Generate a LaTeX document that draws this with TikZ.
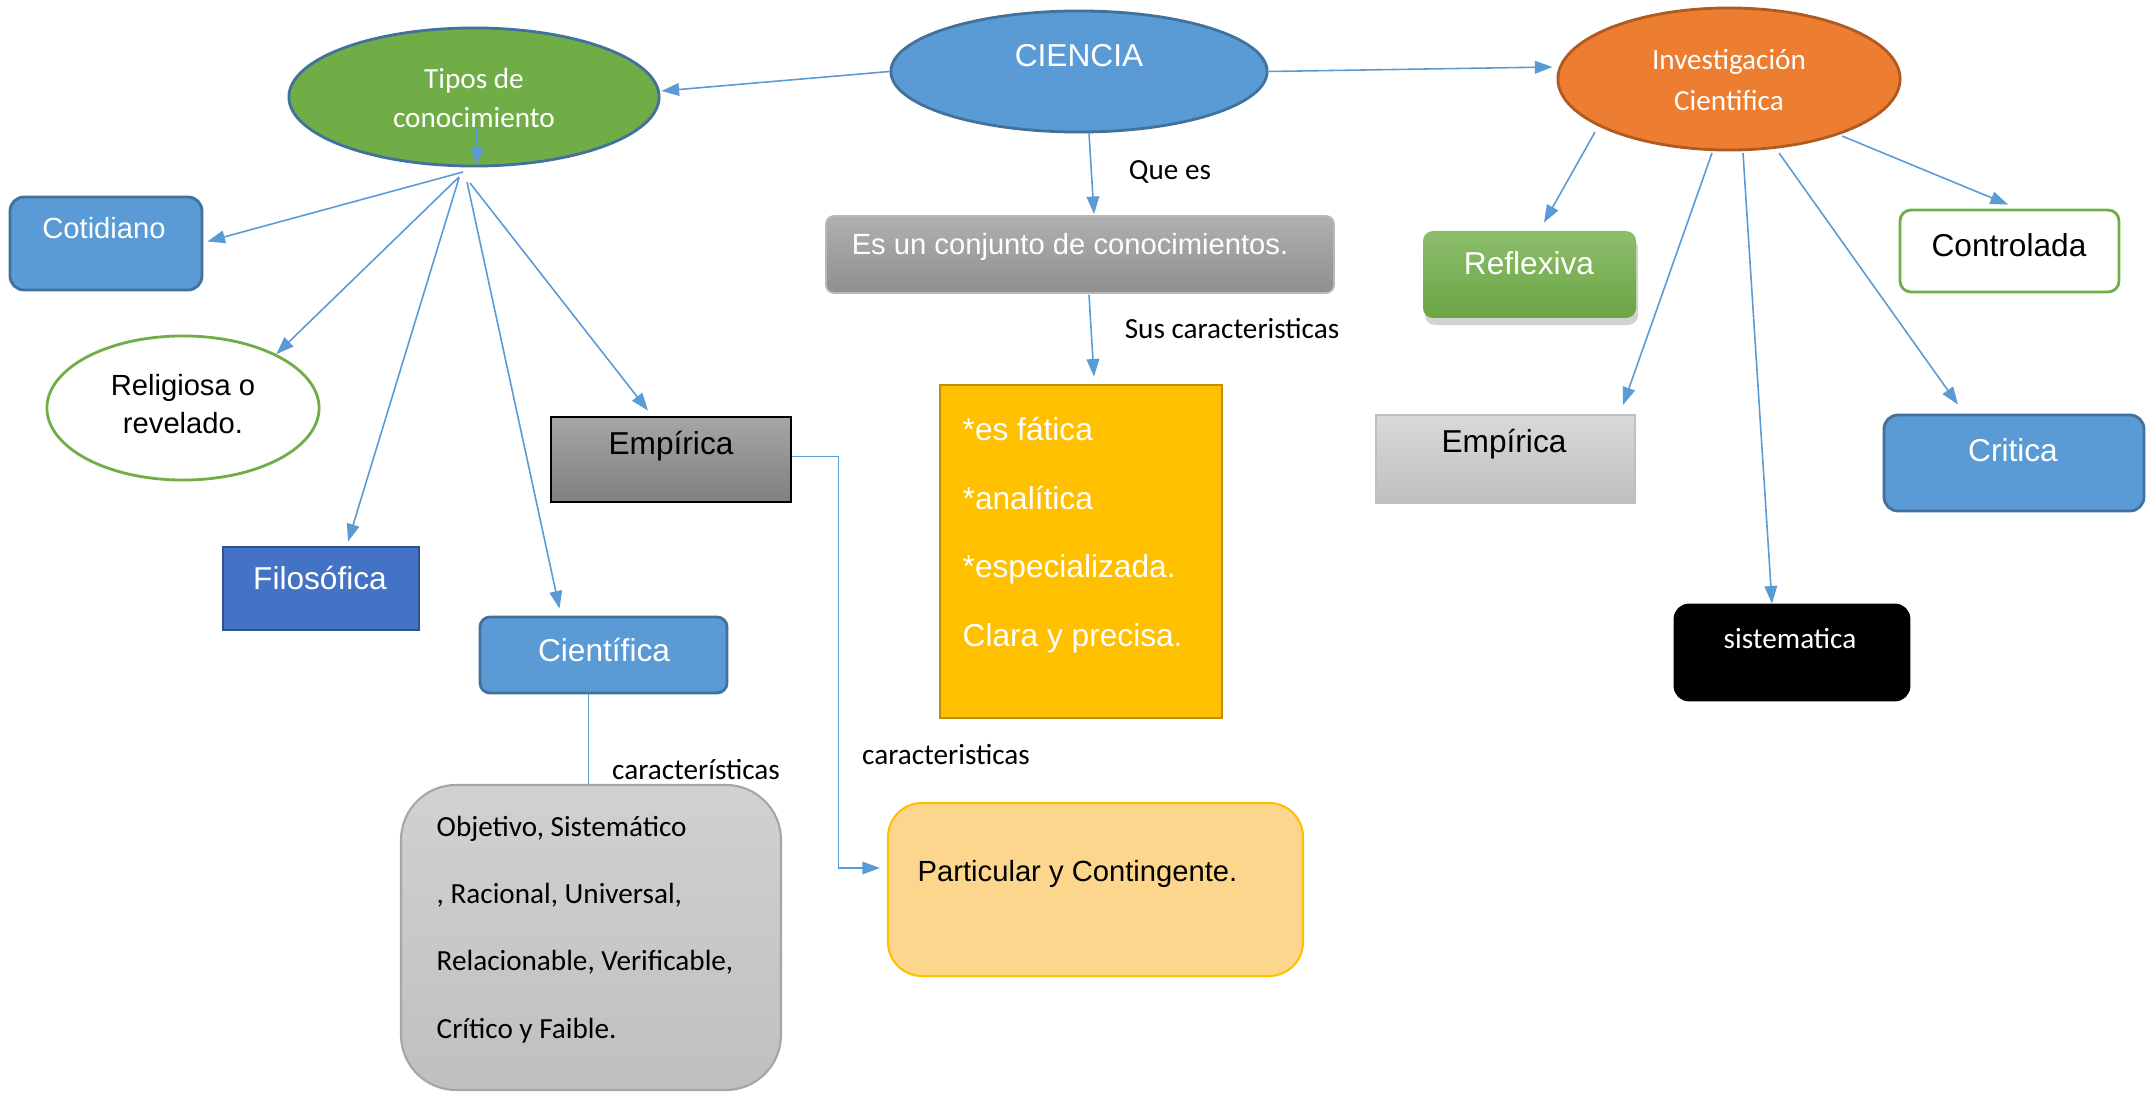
\documentclass[tikz,border=0pt]{standalone}
\usepackage{fontspec}
\setmainfont{Liberation Sans}
\newfontfamily\calibrifont{Carlito}
\usetikzlibrary{arrows.meta,shapes.geometric,fit,calc,shadows}
\definecolor{abl}{HTML}{5B9BD5}
\definecolor{bfill}{HTML}{5B9BD5}
\definecolor{bdraw}{HTML}{41719C}
\definecolor{dfill}{HTML}{4472C4}
\definecolor{ddraw}{HTML}{2F528F}
\definecolor{gfill}{HTML}{70AD47}
\definecolor{ofill}{HTML}{ED7D31}
\definecolor{odraw}{HTML}{AE5A21}
\definecolor{yfill}{HTML}{FFC000}
\definecolor{ydraw}{HTML}{BF9000}
\definecolor{pfill}{HTML}{FDD68E}
\newcommand\fa{\fontsize{9}{11}\selectfont}
\newcommand\fas{\fontsize{8.3}{10.8}\selectfont}
\newcommand\fc{\calibrifont\fontsize{8.3}{11.5}\selectfont}
\begin{document}
\begin{tikzpicture}[x=0.01cm,y=-0.01cm,
  conn/.style={draw=abl, line width=0.45pt, -{Triangle[length=5pt,width=3.6pt]}},
  plainline/.style={draw=abl, line width=0.45pt},
  shp/.style={inner sep=0pt, line width=0.8pt},
  bluebox/.style={shp, fill=bfill, draw=bdraw},
  txt/.style={inner sep=0pt, anchor=center},
  wt/.style={txt, text=white},
  bt/.style={txt, text=black}]
\fill[white] (0,0) rectangle (2156,1094);
\useasboundingbox (0,0) rectangle (2156,1094);

% ellipses
\node[ellipse, shp, fill=bfill, draw=bdraw, minimum width=3.76cm, minimum height=1.21cm] (ciencia) at (1079,71.5) {};
\node[wt] (cienciat) at (1079,56) {\fa CIENCIA};

\node[ellipse, shp, fill=gfill, draw=bdraw, minimum width=3.70cm, minimum height=1.38cm] (tipos) at (474,97) {};
\node[wt, align=center, font=\calibrifont\fontsize{8.3}{11.3}\selectfont] (tipost) at (474,98) {Tipos de\\ conocimiento};

\node[ellipse, shp, fill=ofill, draw=odraw, minimum width=3.42cm, minimum height=1.42cm] (inv) at (1729,79) {};
\node[wt, align=center, font=\calibrifont\fontsize{8.3}{11.5}\selectfont] (invt) at (1729,80) {Investigación\\ Cientifica};

\node[ellipse, shp, fill=white, draw=gfill, minimum width=2.72cm, minimum height=1.44cm] (rel) at (183,408) {};
\node[bt, align=center, font=\fontsize{8.3}{10.8}\selectfont] (relt) at (183,404) {Religiosa o\\ revelado.};

% left boxes
\node[bluebox, rounded corners=0.14cm, fit={(10,197)(202,290)}] (cot) {};
\node[wt] (cott) at (104,228) {\fas Cotidiano};

\node[shp, fill=dfill, draw=ddraw, fit={(223,547)(419,630)}] (filo) {};
\node[wt] (filot) at (320,578) {\fa Filosófica};

\node[bluebox, rounded corners=0.1cm, fit={(480,617)(727,693)}] (cient) {};
\node[wt] (cientt) at (604,650) {\fa Científica};

\node[shp, top color=black!35, bottom color=black!50, draw=black, fit={(551,417)(791,502)}] (emp) {};
\node[bt] (empt) at (671,446) {\fa Empírica};

\node[shp, top color=black!18, bottom color=black!25, draw=black!35, line width=0.6pt, rounded corners=0.55cm, fit={(401,785)(781,1090)}] (gray) {};
\node[bt, anchor=west, align=left, font=\calibrifont\fontsize{8.3}{19.1}\selectfont] (grayt) at (436,929.5) {Objetivo, Sistemático\\ , Racional, Universal,\\ Relacionable, Verificable,\\ Crítico y Faible.};

% middle boxes
\node[shp, top color=black!31, bottom color=black!44, draw=black!28, line width=0.5pt, rounded corners=0.08cm, fit={(826,216)(1334,293)}] (es) {};
\node[wt] (est) at (1070,247) {\fas Es un conjunto de conocimientos.};

\node[shp, fill=yfill, draw=ydraw, fit={(940,385)(1222,718)}] (yel) {};
\node[wt, anchor=west, align=left, font=\fontsize{9}{19.5}\selectfont] (yelt) at (962,535) {*es fática\\ *analítica\\ *especializada.\\ Clara y precisa.};

\node[shp, fill=pfill, draw=yfill, line width=0.6pt, rounded corners=0.34cm, fit={(888,803)(1303,976)}] (part) {};
\node[bt, anchor=west] (partt) at (917,874) {\fas Particular y Contingente.};

% right boxes
\node[shp, top color=gfill!80!white, bottom color=gfill!95!black, draw=none, rounded corners=0.1cm, drop shadow={opacity=0.35, shadow xshift=0.02cm, shadow yshift=-0.07cm}, fit={(1423,231)(1636,318)}] (refl) {};
\node[wt] (reflt) at (1529,263) {\fa Reflexiva};

\node[shp, fill=white, draw=gfill, rounded corners=0.11cm, fit={(1900,210)(2119,292)}] (ctrl) {};
\node[bt] (ctrlt) at (2009,245) {\fa Controlada};

\node[shp, top color=black!15, bottom color=black!25, draw=black!25, line width=0.6pt, fit={(1376,415)(1635,503)}] (emp2) {};
\node[bt] (emp2t) at (1504,444) {\fa Empírica};

\node[bluebox, rounded corners=0.14cm, fit={(1884,415)(2144,511)}] (crit) {};
\node[wt] (critt) at (2013,450) {\fa Critica};

\node[shp, fill=black, draw=black, rounded corners=0.14cm, fit={(1675,605)(1909,700)}] (sis) {};
\node[wt] (sist) at (1790,639) {\fc sistematica};

% labels
\node[bt] (queest) at (1170,172) {\fc Que es};
\node[bt] (suscar) at (1232,329) {\fc Sus caracteristicas};
\node[bt] (carac1) at (696,770) {\fc características};
\node[bt] (carac2) at (946,755) {\fc caracteristicas};

% connectors from CIENCIA
\draw[conn] (ciencia.west) -- ($(tipos.east)+(1,-6)$);
\draw[conn] (ciencia.east) -- ($(inv.west)+(-4,-12)$);
\draw[conn] ($(ciencia.south)+(10,0)$) -- ($(es.north)+(14,-1)$);
\draw[conn] ($(es.south)+(9,1)$) -- ($(yel.north)+(13,-7)$);

% inner arrow of Tipos
\draw[conn] ($(tipos.center)+(3,30)$) -- ($(tipos.south)+(3,-2)$);

% connectors from Tipos
\draw[conn] ($(tipos.center)+(-11,75)$) -- ($(cot.east)+(4,-2)$);
\draw[conn] ($(tipos.center)+(-15,80)$) -- (rel.30);
\draw[conn] ($(tipos.center)+(-15,81)$) -- ($(filo.north)+(27,-4)$);
\draw[conn] ($(tipos.center)+(-7,85)$) -- ($(cient.north)+(-44,-7)$);
\draw[conn] ($(tipos.center)+(-4,86)$) -- ($(emp.north)+(-23,-5)$);

% Científica to grey box
\coordinate (c1) at ($(cient.south)+(-15,0)$);
\draw[plainline] (c1) -- (c1 |- gray.north);

% Empírica to Particular
\coordinate (e1) at ($(emp.east)+(0,-3)$);
\coordinate (e2) at ($(part.west)+(-7,-21.5)$);
\draw[conn] (e1) -- ++(46,0) |- (e2);

% connectors from Investigación
\draw[conn] ($(inv.center)+(-134,53)$) -- ($(refl.north)+(14.5,-7)$);
\draw[conn] ($(inv.center)+(-17,74)$) -- ($(emp2.north east)+(-13,-9)$);
\draw[conn] ($(inv.center)+(14,74)$) -- ($(sis.north)+(-20,0)$);
\draw[conn] ($(inv.center)+(50,74)$) -- ($(crit.north)+(-56,-9)$);
\draw[conn] ($(inv.center)+(113,57)$) -- ($(ctrl.north)+(-1.5,-4)$);
\end{tikzpicture}
\end{document}
